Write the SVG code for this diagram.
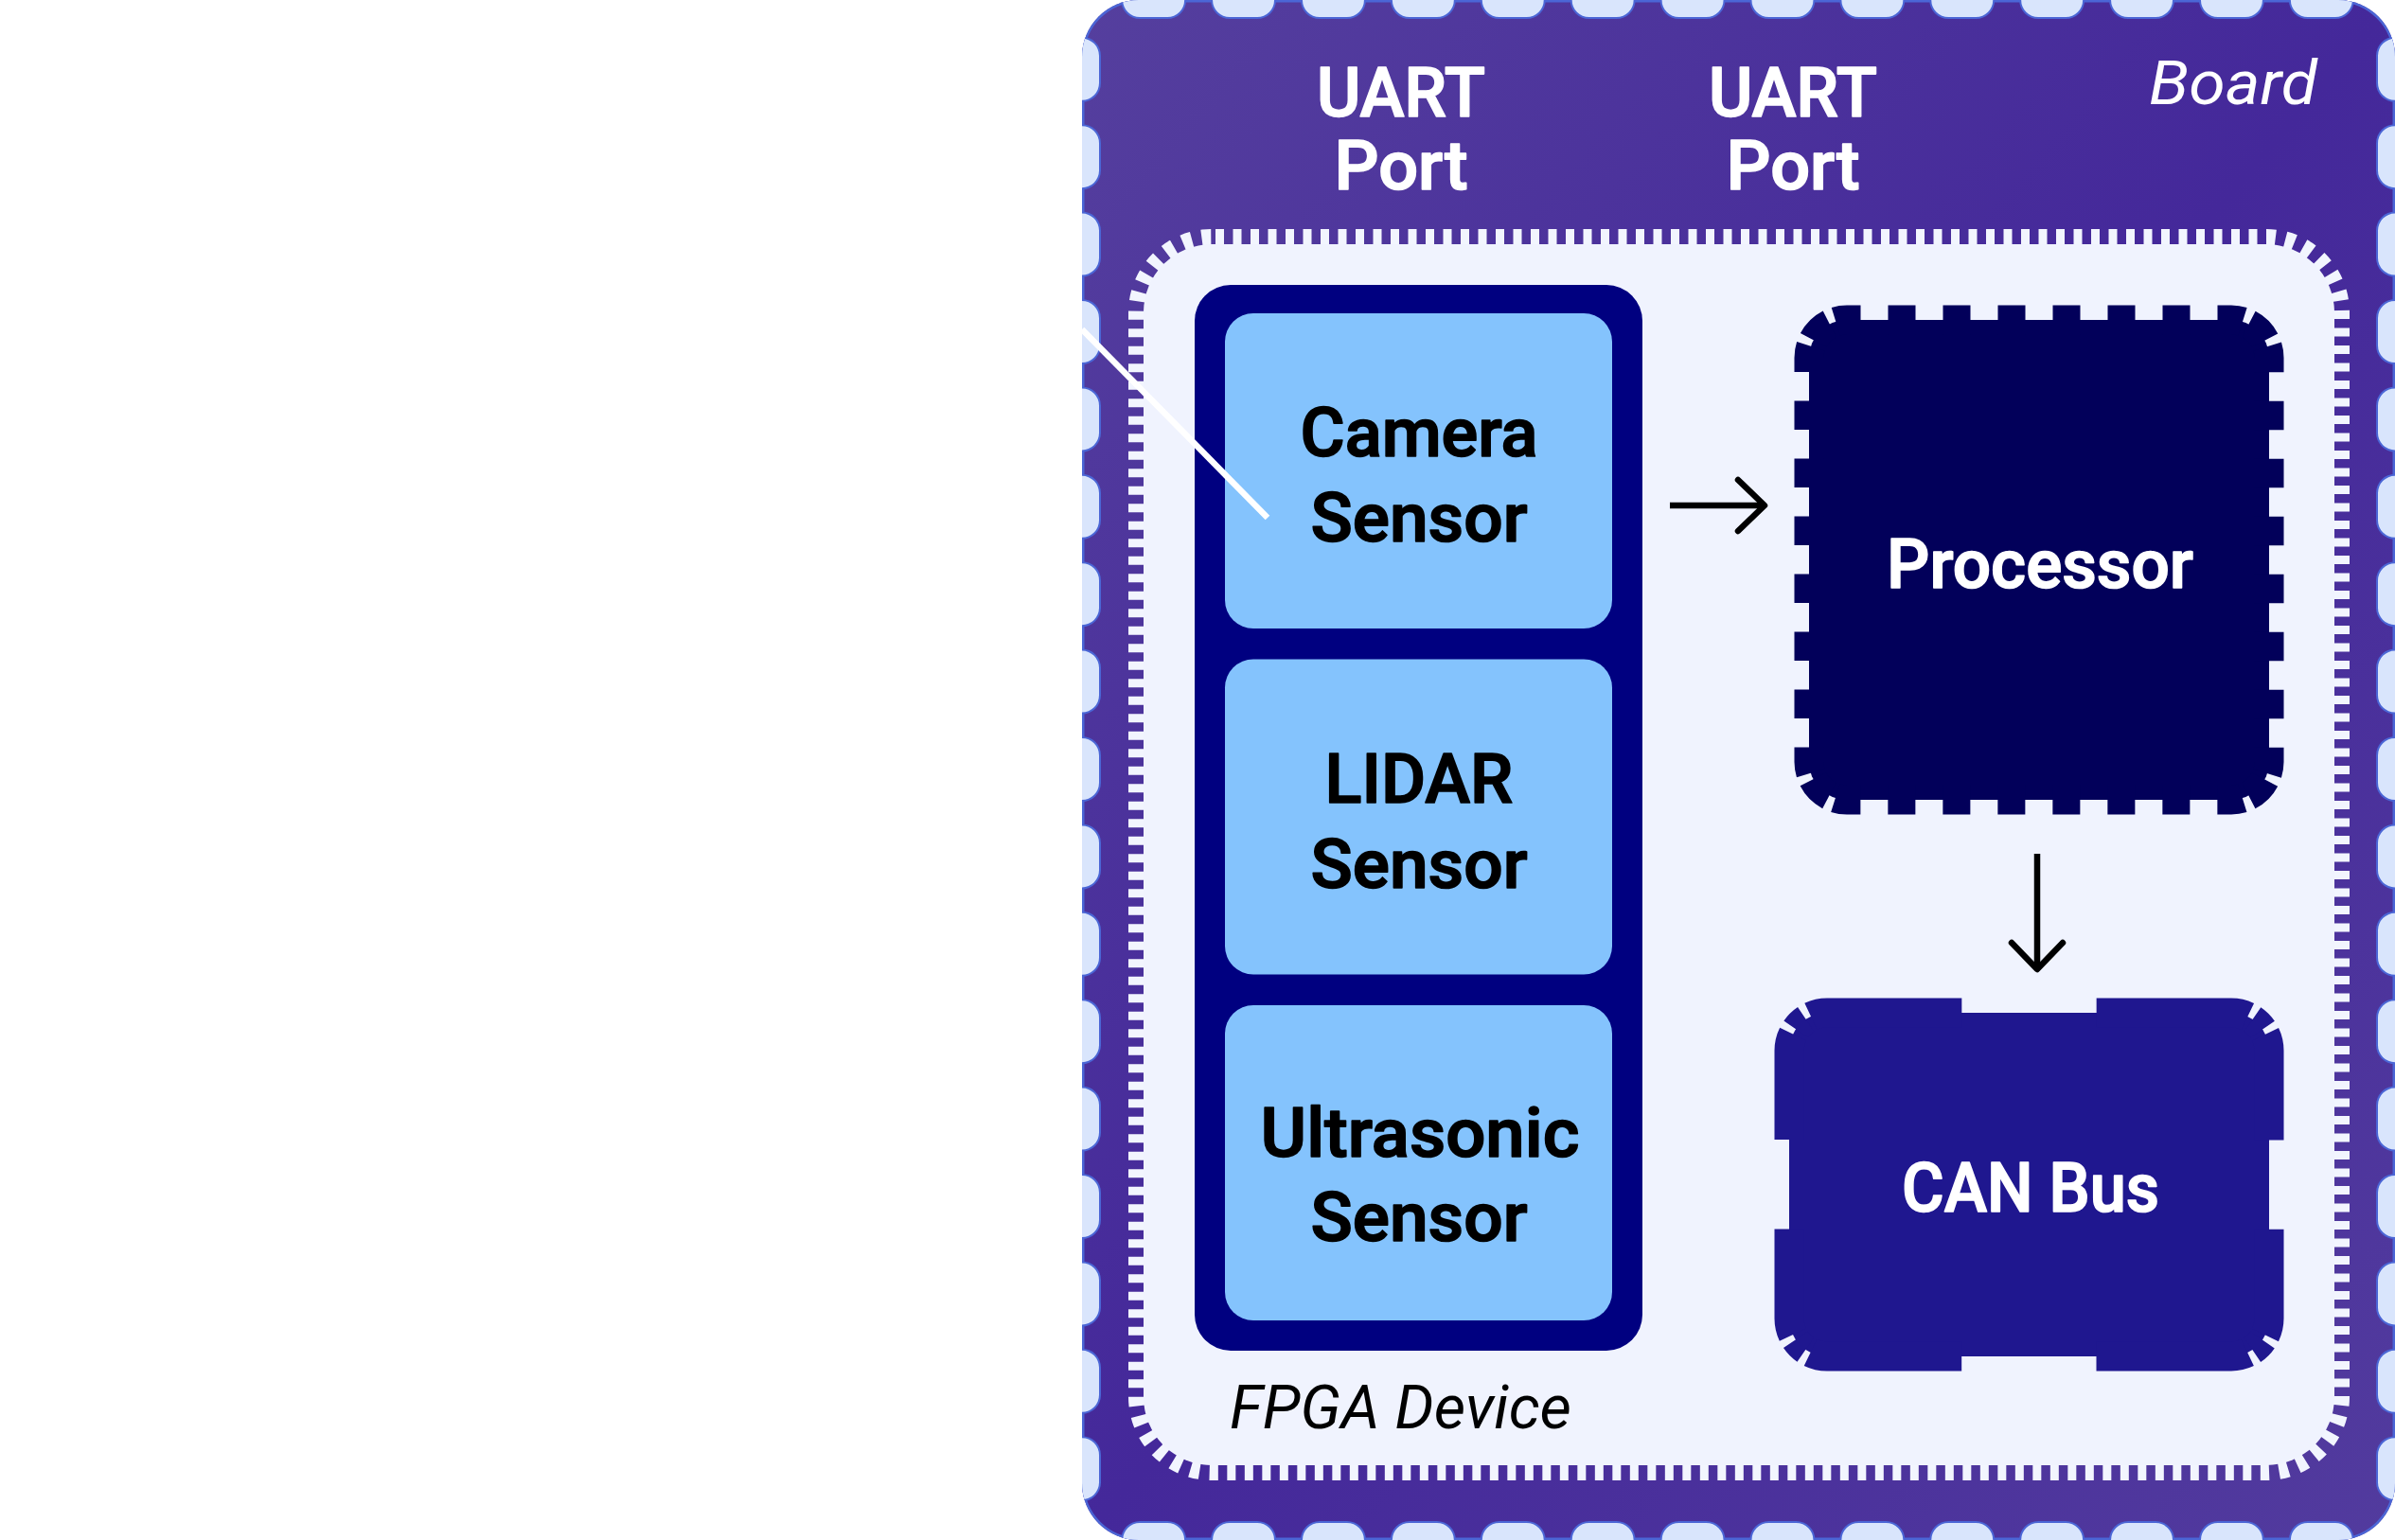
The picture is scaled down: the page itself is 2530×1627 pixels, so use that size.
<svg xmlns="http://www.w3.org/2000/svg" width="2530" height="1627" viewBox="0 0 2530 1627">
  <defs>
    <style>
      .lbl { font-family: Roboto, "Liberation Sans", "DejaVu Sans", sans-serif; font-weight: 500; font-size: 72px; text-anchor: middle; stroke-width: 1.6; stroke-linejoin: round; }
      .ital { font-family: Roboto, "Liberation Sans", "DejaVu Sans", sans-serif; font-style: italic; font-weight: 400; font-size: 64px; }
      .white { fill: #ffffff; }
      .lbl.white { stroke: #ffffff; }
      .black { fill: #000000; }
      .lbl.black { stroke: #000000; }
      .sensor { fill: #84c3fd; }
      .bump-o { fill: none; stroke: #4b66d6; stroke-width: 40; stroke-linecap: round; }
      .bump-i { fill: none; stroke: #d9e5fc; stroke-width: 36; stroke-linecap: round; }
      .h { stroke-dasharray: 29 65.9; stroke-dashoffset: 33.75; }
      .v { stroke-dasharray: 29 63.4; stroke-dashoffset: 33.6; }
      .arrow { fill: none; stroke: #000000; stroke-width: 6.5; stroke-linecap: butt; }
    </style>
    <linearGradient id="boardGrad" x1="0" y1="0" x2="1" y2="1">
      <stop offset="0" stop-color="#553f9e"/>
      <stop offset="0.5" stop-color="#44289a"/>
      <stop offset="1" stop-color="#523b9e"/>
    </linearGradient>
    <clipPath id="boardClip">
      <rect x="1143" y="0" width="1387" height="1627" rx="60"/>
    </clipPath>
    <marker id="chev" markerUnits="userSpaceOnUse" markerWidth="80" markerHeight="80" viewBox="-40 -40 80 80" refX="0" refY="0" orient="auto" overflow="visible">
      <path d="M-28,-27 L0,0 L-28,27" fill="none" stroke="#000000" stroke-width="6.5" stroke-linecap="round" stroke-linejoin="round"/>
    </marker>
  </defs>

  <rect x="0" y="0" width="2530" height="1627" fill="#ffffff"/>

  <g id="board">
    <g clip-path="url(#boardClip)">
      <rect x="1143" y="0" width="1387" height="1627" fill="url(#boardGrad)"/>
      <rect x="1143" y="0" width="1387" height="1627" rx="60" fill="none" stroke="#4b66d6" stroke-width="5"/>
      <path class="bump-o h" d="M1143,0 H2530"/>
      <path class="bump-o h" d="M1143,1627 H2530"/>
      <path class="bump-o v" d="M1143,0 V1627"/>
      <path class="bump-o v" d="M2530,0 V1627"/>
      <path class="bump-i h" d="M1143,0 H2530"/>
      <path class="bump-i h" d="M1143,1627 H2530"/>
      <path class="bump-i v" d="M1143,0 V1627"/>
      <path class="bump-i v" d="M2530,0 V1627"/>
    </g>
    <text class="ital white" x="2448" y="110" text-anchor="end" textLength="178" lengthAdjust="spacingAndGlyphs">Board</text>
  </g>

  <g id="uart-port-1">
    <text class="lbl white" x="1480" y="123" textLength="178" lengthAdjust="spacingAndGlyphs">UART</text>
    <text class="lbl white" x="1480" y="200" textLength="141" lengthAdjust="spacingAndGlyphs">Port</text>
  </g>
  <g id="uart-port-2">
    <text class="lbl white" x="1894" y="123" textLength="178" lengthAdjust="spacingAndGlyphs">UART</text>
    <text class="lbl white" x="1894" y="200" textLength="141" lengthAdjust="spacingAndGlyphs">Port</text>
  </g>

  <g id="fpga-device">
    <rect x="1208" y="258" width="1258" height="1290" rx="72" fill="#f0f3fe" stroke="#f2f5fe" stroke-width="32" stroke-dasharray="9 9.5" stroke-dashoffset="14.5" paint-order="stroke"/>
    <text class="ital black" x="1299" y="1509" textLength="361" lengthAdjust="spacingAndGlyphs">FPGA Device</text>
  </g>

  <g id="sensor-array">
    <rect x="1262" y="301" width="473" height="1126" rx="38" fill="#000080"/>
  </g>

  <g id="camera-sensor">
    <rect class="sensor" x="1294" y="331" width="409" height="333" rx="30"/>
    <text class="lbl black" x="1499" y="482" textLength="251" lengthAdjust="spacingAndGlyphs">Camera</text>
    <text class="lbl black" x="1499" y="572" textLength="229" lengthAdjust="spacingAndGlyphs">Sensor</text>
  </g>

  <g id="lidar-sensor">
    <rect class="sensor" x="1294" y="696.5" width="409" height="333" rx="30"/>
    <text class="lbl black" x="1499" y="848" textLength="199" lengthAdjust="spacingAndGlyphs">LIDAR</text>
    <text class="lbl black" x="1499" y="938" textLength="229" lengthAdjust="spacingAndGlyphs">Sensor</text>
  </g>

  <g id="ultrasonic-sensor">
    <rect class="sensor" x="1294" y="1062" width="409" height="333" rx="30"/>
    <text class="lbl black" x="1500" y="1222" textLength="337" lengthAdjust="spacingAndGlyphs">Ultrasonic</text>
    <text class="lbl black" x="1499" y="1311" textLength="229" lengthAdjust="spacingAndGlyphs">Sensor</text>
  </g>

  <g id="processor">
    <rect x="1911" y="338" width="486" height="507" rx="40" fill="#02005a" stroke="#02005a" stroke-width="31"
      stroke-dasharray="14.5 29 29 29 29 29 29 29 29 29 29 29 29 29 26.7 7 24.4 7 27.45 30.5 30.5 30.5 30.5 30.5 30.5 30.5 30.5 30.5 30.5 30.5 30.5 30.5 27.45 7 24.4 7 26.7 29 29 29 29 29 29 29 29 29 29 29 29 29 26.7 7 24.4 7 27.45 30.5 30.5 30.5 30.5 30.5 30.5 30.5 30.5 30.5 30.5 30.5 30.5 30.5 27.45 7 24.4 7 12.2 0"/>
    <text class="lbl white" x="2155" y="621" textLength="324" lengthAdjust="spacingAndGlyphs">Processor</text>
  </g>

  <g id="can-bus">
    <rect x="1890" y="1070" width="507" height="363" rx="40" fill="#1f178f" stroke="#1f178f" stroke-width="31"
      stroke-dasharray="142.33 142.33 160.27 6 14.94 6 112.27 94.33 112.27 6 14.94 6 160.27 142.33 160.27 6 14.94 6 112.27 94.33 112.27 6 14.94 6 17.94 0"/>
    <text class="lbl white" x="2145" y="1280" textLength="272" lengthAdjust="spacingAndGlyphs">CAN Bus</text>
  </g>

  <g id="connectors">
    <line x1="1143" y1="348" x2="1339" y2="547" stroke="#ffffff" stroke-width="6.5"/>
    <line class="arrow" x1="1764" y1="534" x2="1864" y2="534" marker-end="url(#chev)"/>
    <line class="arrow" x1="2152" y1="902" x2="2152" y2="1024" marker-end="url(#chev)"/>
  </g>
</svg>
